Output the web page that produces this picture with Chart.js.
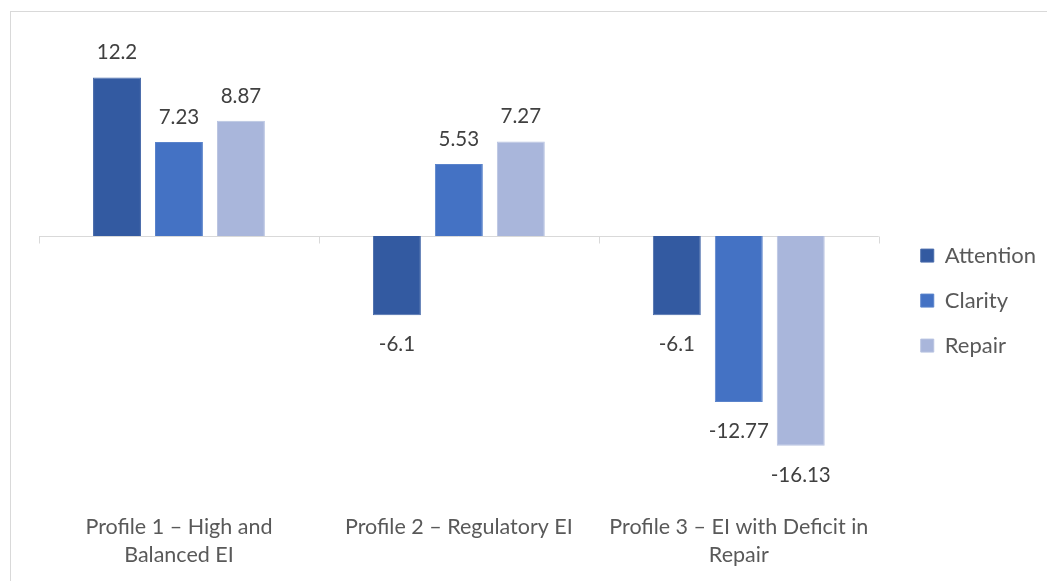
<!DOCTYPE html>
<html>
<head>
<meta charset="utf-8">
<script src="https://cdn.jsdelivr.net/npm/chart.js@4"></script>
<style>
  html, body { margin: 0; padding: 0; background: #fff; overflow: hidden; }
  #cadre {
    position: absolute; left: 10px; top: 11px;
    width: 1050px; height: 590px;
    border: 1px solid #d9d9d9;
  }
</style>
</head>
<body>
<div id="cadre"><canvas id="profilsChart"></canvas></div>
<script>
// données du graphique
const categories = [
  ['Profile 1 – High and', 'Balanced EI'],
  'Profile 2 – Regulatory EI',
  ['Profile 3 – EI with Deficit in', 'Repair']
];
const series = ['Attention', 'Clarity', 'Repair'];
const attention = [12.2, -6.1, -6.1];
const clarity = [7.23, 5.53, -12.77];
const repair = [8.87, 7.27, -16.13];

const couleurs = ['#335aa1', '#4472c4', '#a9b6db'];
const bordures = ['#4a6cab', '#5a83cb', '#b8c3e1'];

// ligne du zéro + petites graduations entre catégories
const axeZero = {
  id: 'axeZero',
  beforeDatasetsDraw(chart) {
    const { ctx, chartArea } = chart;
    const x = chart.scales.x;
    const y0 = Math.round(chart.scales.y.getPixelForValue(0)) + 0.5;
    const pas = x.width / categories.length;
    ctx.save();
    ctx.strokeStyle = '#d9d9d9';
    ctx.lineWidth = 1;
    ctx.beginPath();
    ctx.moveTo(chartArea.left, y0);
    ctx.lineTo(chartArea.right, y0);
    for (let i = 0; i <= categories.length; i++) {
      const px = Math.round(x.left + i * pas) + 0.5;
      ctx.moveTo(px, y0);
      ctx.lineTo(px, y0 + 7);
    }
    ctx.stroke();
    ctx.restore();
  }
};

// étiquettes de valeurs
const etiquettes = {
  id: 'etiquettes',
  afterDatasetsDraw(chart) {
    const { ctx } = chart;
    ctx.save();
    ctx.font = '20.5px Lato';
    ctx.fillStyle = '#404040';
    ctx.textAlign = 'center';
    ctx.textBaseline = 'alphabetic';
    chart.data.datasets.forEach((ds, i) => {
      const meta = chart.getDatasetMeta(i);
      meta.data.forEach((bar, j) => {
        const v = ds.data[j];
        const yTxt = v >= 0 ? bar.y - 18 : bar.y + 36;
        ctx.fillText(String(v), bar.x, yTxt);
      });
    });
    ctx.restore();
  }
};

Chart.defaults.font.family = 'Lato';
Chart.defaults.color = '#595959';

const ctx = document.getElementById('profilsChart').getContext('2d');
new Chart(ctx, {
  type: 'bar',
  data: {
    labels: categories,
    datasets: [attention, clarity, repair].map((d, i) => ({
      label: series[i],
      data: d,
      backgroundColor: couleurs[i],
      borderColor: bordures[i],
      borderWidth: 1,
      categoryPercentage: 0.664,
      barPercentage: 0.774
    }))
  },
  options: {
    responsive: true,
    maintainAspectRatio: false,
    animation: false,
    layout: { padding: { left: 28, top: 29, right: 15, bottom: 0 } },
    plugins: {
      tooltip: { enabled: false },
      legend: {
        position: 'right',
        align: 'center',
        fullSize: false,
        title: { display: true, text: '', padding: { top: 0, bottom: 45 }, font: { size: 16 } },
        labels: {
          boxWidth: 13,
          boxHeight: 13,
          padding: 23,
          color: '#595959',
          font: { size: 22 }
        }
      }
    },
    scales: {
      x: {
        grid: { display: false },
        border: { display: false },
        ticks: { font: { size: 21.5, lineHeight: 1.3 }, padding: 9, color: '#595959', maxRotation: 0, autoSkip: false },
        afterFit(scale) { scale.height = 106; }
      },
      y: {
        position: 'right',
        min: -20,
        max: 15,
        grid: { display: false },
        border: { display: false },
        ticks: { display: false },
        afterFit(scale) { scale.width = 19; }
      }
    }
  },
  plugins: [axeZero, etiquettes]
});
</script>
</body>
</html>
